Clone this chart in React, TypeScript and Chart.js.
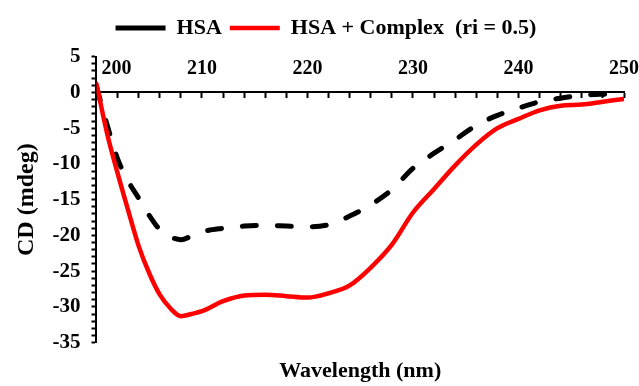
import React, { useEffect, useRef } from 'react';
import { Chart, registerables } from 'chart.js';

Chart.register(...registerables);

const FONT = "'Liberation Serif', 'Times New Roman', serif";

const wavelengths = [200, 201, 202, 203, 204, 205, 206, 207, 208, 209, 210, 212, 214, 216, 218, 220, 222, 224, 226, 228, 230, 232, 234, 236, 238, 240, 242, 244, 246, 248, 250];
const hsaValues = [0.8, -4.5, -9.3, -12.4, -14.8, -17.2, -19.2, -20.2, -20.6, -20.1, -19.5, -19.0, -18.7, -18.6, -18.7, -18.8, -18.5, -17.3, -15.7, -13.6, -10.6, -8.5, -6.6, -4.6, -3.2, -2.2, -1.3, -0.8, -0.4, -0.25, -0.2];
const complexValues = [1.2, -5.7, -11.3, -16.5, -21.5, -25.3, -28.3, -30.2, -31.3, -31.0, -30.6, -29.2, -28.4, -28.3, -28.5, -28.7, -28.1, -27.0, -24.5, -21.3, -16.8, -13.5, -10.2, -7.3, -5.0, -3.7, -2.5, -1.85, -1.7, -1.3, -0.9];

const seriesNames = ['HSA', 'HSA + Complex  (ri = 0.5)'];
const xLabelValues = [200, 210, 220, 230, 240, 250];
const yLabelValues = [5, 0, -5, -10, -15, -20, -25, -30, -35];
const xTitle = 'Wavelength (nm)';
const yTitle = 'CD (mdeg)';

export default function App() {
  const ref = useRef<HTMLCanvasElement>(null);

  useEffect(() => {
    if (!ref.current) return;
    Chart.defaults.font.family = FONT;
    Chart.defaults.color = '#000';
    const toPts = (vals: number[]) => wavelengths.map((x, i) => ({ x, y: vals[i] }));
    const chart = new Chart(ref.current, {
      type: 'line',
      data: {
        datasets: [
          {
            label: seriesNames[0],
            data: toPts(hsaValues),
            borderColor: '#000000',
            backgroundColor: '#000000',
            borderWidth: 5,
            borderDash: [14, 21],
            borderCapStyle: 'round',
            pointRadius: 0,
            cubicInterpolationMode: 'monotone',
            fill: false,
            order: 1,
            xAxisID: 'x',
            yAxisID: 'y',
          },
          {
            label: seriesNames[1],
            data: toPts(complexValues),
            borderColor: '#FF0000',
            backgroundColor: '#FF0000',
            borderWidth: 4.5,
            borderCapStyle: 'round',
            pointRadius: 0,
            cubicInterpolationMode: 'monotone',
            fill: false,
            order: 0,
            xAxisID: 'x',
            yAxisID: 'y',
          },
        ],
      },
      options: {
        animation: false,
        responsive: false,
        maintainAspectRatio: false,
        layout: { padding: { left: 28, right: 15, top: 9, bottom: 1 } },
        plugins: {
          tooltip: { enabled: false },
          legend: {
            position: 'top',
            labels: {
              usePointStyle: true,
              pointStyle: 'line',
              pointStyleWidth: 50,
              padding: 8,
              color: '#000',
              font: { size: 22, weight: 'bold', family: FONT },
              sort: (a: any, b: any) => a.datasetIndex - b.datasetIndex,
            },
          },
        },
        scales: {
          x: {
            type: 'linear',
            min: 200,
            max: 250,
            position: { y: 0 } as any,
            ticks: {
              stepSize: 2,
              autoSkip: false,
              maxRotation: 0,
              padding: -41,
              color: '#000',
              font: { size: 20, weight: 'bold', family: FONT },
              callback: (v: any) => {
                const n = Number(v);
                if (!xLabelValues.includes(n)) return '';
                return n === xLabelValues[0] ? '        ' + n : String(n);
              },
            },
            grid: { drawOnChartArea: false, tickLength: 5, tickWidth: 2, color: '#000' },
            border: { color: '#000', width: 2 },
          },
          xt: {
            type: 'linear',
            position: 'top',
            min: 200,
            max: 250,
            ticks: { display: false },
            grid: { display: false, drawTicks: false },
            border: { display: false },
            title: { display: true, text: '', font: { size: 1 }, padding: { top: 0, bottom: 6.5 } },
          },
          xb: {
            type: 'linear',
            position: 'bottom',
            min: 200,
            max: 250,
            ticks: { display: false },
            grid: { display: false, drawTicks: false },
            border: { display: false },
            title: {
              display: true,
              text: xTitle,
              color: '#000',
              font: { size: 22, weight: 'bold', family: FONT },
              padding: { top: 16, bottom: 0 },
            },
          },
          y: {
            type: 'linear',
            position: 'left',
            min: -35,
            max: 5,
            ticks: {
              stepSize: 1,
              autoSkip: false,
              padding: 11,
              color: '#000',
              font: { size: 21, weight: 'bold', family: FONT },
              callback: (v: any) => (yLabelValues.includes(Number(v)) ? String(v) : ''),
            },
            grid: { drawOnChartArea: false, tickLength: 5, tickWidth: 2, color: '#000' },
            border: { color: '#000', width: 2 },
            title: {
              display: true,
              text: yTitle,
              color: '#000',
              font: { size: 24, weight: 'bold', family: FONT },
              padding: { top: -15.4, bottom: 0.1 },
            },
          },
        },
      },
    } as any);
    return () => chart.destroy();
  }, []);

  return (
    <div style={{ position: 'fixed', left: 0, top: 0, width: 639, height: 386, background: '#fff' }}>
      <canvas ref={ref} width={639} height={386} style={{ width: 639, height: 386, display: 'block' }} />
    </div>
  );
}
